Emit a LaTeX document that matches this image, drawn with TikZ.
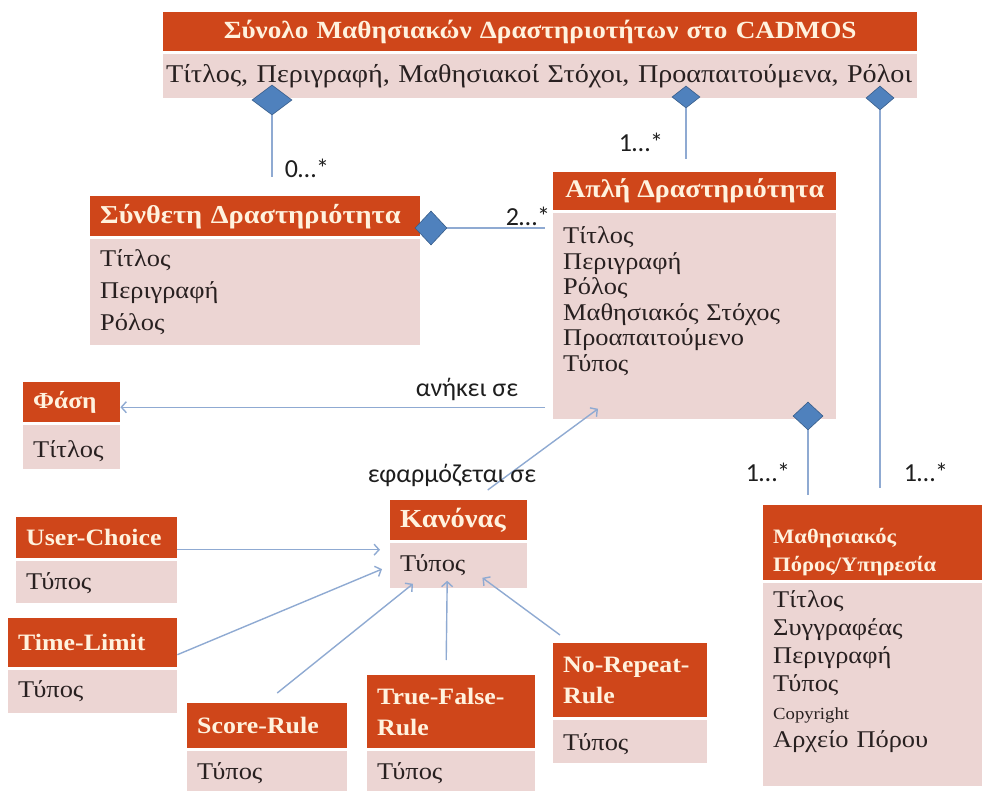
\documentclass[tikz,border=0pt]{standalone}
\usepackage{fontspec}
\setmainfont{Liberation Serif}[FakeStretch=1.1]
\newfontfamily\lblfont{Carlito}
\usepackage{xcolor}
\usetikzlibrary{arrows.meta,positioning,shapes.geometric,calc}

\definecolor{hdfill}{RGB}{207,70,26}
\definecolor{hdtext}{RGB}{255,242,222}
\definecolor{bdfill}{RGB}{236,213,211}
\definecolor{bdtext}{RGB}{40,32,32}
\definecolor{linkc}{RGB}{143,170,210}
\definecolor{dmfill}{RGB}{79,129,189}
\definecolor{dmdraw}{RGB}{56,93,138}
\definecolor{lbltext}{RGB}{30,30,30}

\begin{document}
\begin{tikzpicture}[
    x=1pt, y=-1pt,
    hd/.style={anchor=north west, fill=hdfill, text=hdtext, inner xsep=10pt, inner ysep=0pt,
               align=left, font=\fontsize{#1}{31}\selectfont\bfseries},
    hd/.default=23.5,
    bd/.style={anchor=north west, fill=bdfill, text=bdtext, inner xsep=10pt, inner ysep=0pt,
               align=left, font=\fontsize{24}{25.5}\selectfont},
    dm/.style={diamond, fill=dmfill, draw=dmdraw, line width=0.6pt, inner sep=0pt},
    lnk/.style={draw=linkc, line width=1.4pt},
    arr/.style={lnk, -{Straight Barb[length=5pt,width=11pt]}},
    mul/.style={font=\lblfont\fontsize{26}{30}\selectfont, text=lbltext, inner sep=0pt},
    ]
\useasboundingbox (0,0) rectangle (990,791);

% learning activity set
\node[hd=24.7, align=center, text width=734pt, minimum height=39pt] (seth) at (163,12)
  {Σύνολο Μαθησιακών Δραστηριοτήτων στο CADMOS};
\node[bd, below=2pt of seth.south west, anchor=north west, inner xsep=3pt,
      text width=748pt, text height=29pt, text depth=15pt, font=\fontsize{25.6}{28}\selectfont] (setb)
  {Τίτλος, Περιγραφή, Μαθησιακοί Στόχοι, Προαπαιτούμενα, Ρόλοι};

% composite activity
\node[hd=25.8, text width=310pt, minimum height=40pt] (comph) at (90,196) {Σύνθετη Δραστηριότητα};
\node[bd, below=2pt of comph.south west, anchor=north west, text width=310pt,
      text height=28pt, text depth=78pt, font=\fontsize{24}{32}\selectfont] (compb)
  {Τίτλος\\ Περιγραφή\\ Ρόλος};

% simple activity
\node[hd=25.4, inner xsep=0pt, minimum width=283pt, minimum height=38pt] (smph) at (553,172)
  {Απλή Δραστηριότητα};
\node[bd, below=2pt of smph.south west, anchor=north west, text width=263pt,
      text height=31pt, text depth=175pt] (smpb)
  {Τίτλος\\ Περιγραφή\\ Ρόλος\\ Μαθησιακός Στόχος\\ Προαπαιτούμενο\\ Τύπος};

% phase
\node[hd=23, text width=77pt, minimum height=40pt] (phh) at (23,382) {Φάση};
\node[bd, below=2pt of phh.south west, anchor=north west, text width=77pt,
      text height=33pt, text depth=11pt] (phb) {Τίτλος};

% rule and its kinds
\node[hd=26, text width=117pt, minimum height=40pt] (ruh) at (390,500) {Κανόνας};
\node[bd, below=2pt of ruh.south west, anchor=north west, text width=117pt,
      text height=29pt, text depth=16pt] (rub) {Τύπος};

\node[hd, text width=141pt, minimum height=41pt] (uch) at (16,517) {User-Choice};
\node[bd, below=2pt of uch.south west, anchor=north west, text width=141pt,
      text height=29pt, text depth=13pt] (ucb) {Τύπος};

\node[hd, text width=149pt, minimum height=49pt] (tlh) at (8,618) {Time-Limit};
\node[bd, below=2pt of tlh.south west, anchor=north west, text width=149pt,
      text height=28pt, text depth=15pt] (tlb) {Τύπος};

\node[hd, text width=140pt, minimum height=45pt] (srh) at (187,703) {Score-Rule};
\node[bd, below=2pt of srh.south west, anchor=north west, text width=140pt,
      text height=29pt, text depth=12pt] (srb) {Τύπος};

\node[hd, text width=148pt, minimum height=73pt] (tfh) at (367,675) {True-False-\\ Rule};
\node[bd, below=2pt of tfh.south west, anchor=north west, text width=148pt,
      text height=29pt, text depth=12pt] (tfb) {Τύπος};

\node[hd, text width=134pt, minimum height=74pt] (nrh) at (553,643) {No-Repeat-\\ Rule};
\node[bd, below=2pt of nrh.south west, anchor=north west, text width=134pt,
      text height=31pt, text depth=12pt] (nrb) {Τύπος};

% learning resource
\node[hd, text width=199pt, minimum height=75pt, font=\fontsize{20.5}{28}\selectfont\bfseries,
      text height=33pt] (resh) at (763,505) {Μαθησιακός\\ Πόρος/Υπηρεσία};
\node[bd, below=2pt of resh.south west, anchor=north west, text width=199pt,
      text height=25pt, text depth=178pt, font=\fontsize{24}{28}\selectfont] (resb)
  {Τίτλος\\ Συγγραφέας\\ Περιγραφή\\ Τύπος\\ {\fontsize{17}{28}\selectfont Copyright}\\ Αρχείο Πόρου};

% aggregation diamonds
\node[dm, minimum width=40pt, minimum height=30pt] (d1) at (272,100) {};
\node[dm, minimum width=28pt, minimum height=22pt] (d2) at (686,97) {};
\node[dm, minimum width=28pt, minimum height=24pt] (d3) at (880,98) {};
\node[dm, minimum width=32pt, minimum height=34pt] (d4) at (431,228) {};
\node[dm, minimum width=30pt, minimum height=28pt] (d5) at (808,416) {};

\draw[lnk, shorten >=19pt] (d1.south) -- (d1.south |- comph.north);
\draw[lnk, shorten >=13pt] (d2.south) -- (d2.south |- smph.north);
\draw[lnk, shorten >=17pt] (d3.south) -- (d3.south |- resh.north);
\draw[lnk, shorten >=10pt] (d5.south) -- (d5.south |- resh.north);
\draw[lnk, shorten >=8pt] (d4.east) -- (d4.east -| smpb.west);

% multiplicities
\node[mul] (m0) at (307,168) {0…*};
\node[mul] (m1) at (641,142) {1…*};
\node[mul] (m2) at (528,216) {2…*};
\node[mul] (m3) at (768,472) {1…*};
\node[mul] (m4) at (926,472) {1…*};

% associations
\draw[arr, shorten <=8pt] ([yshift=-5pt]phh.east -| smpb.west) -- ([yshift=-5pt]phh.east);
\node[mul] (belongs) at (467,389) {ανήκει σε};
\draw[arr] ($(ruh.north)+(29,-10)$) -- ($(smpb.south west)+(45,-10)$);
\node[mul] (applies) at (452,475) {εφαρμόζεται σε};

\draw[arr, shorten >=10pt] ([yshift=-12pt]uch.east) -- ([yshift=-12pt]uch.east -| rub.west);
\draw[arr] ([yshift=-12pt]tlh.east) -- ($(rub.west)+(-8,4)$);
\draw[arr] ($(srh.north)+(10,-10)$) -- ($(rub.south west)+(23,-4)$);
\draw[arr] ($(tfh.north)+(-5,-15)$) -- ($(rub.south)+(-11.5,-7)$);
\draw[arr] ($(nrh.north west)+(7,-8)$) -- ($(rub.south east)+(-45,-10)$);
\end{tikzpicture}
\end{document}
